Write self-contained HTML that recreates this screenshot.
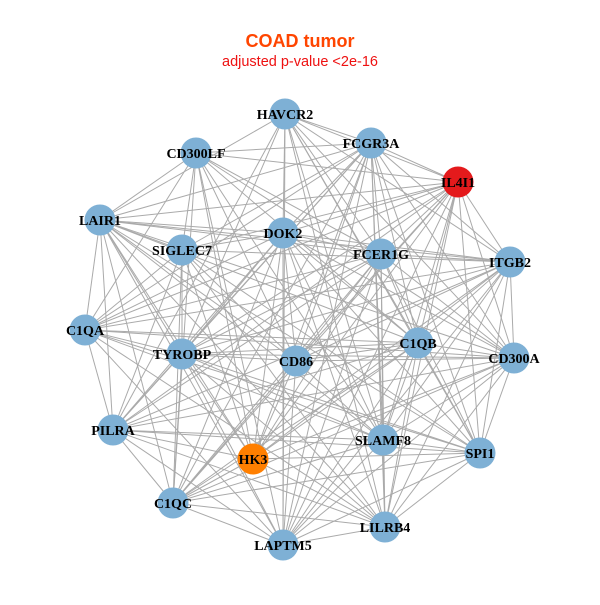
<!DOCTYPE html>
<html><head><meta charset="utf-8"><style>
body{margin:0;background:#fff;}
</style></head><body>
<svg id="s" width="600" height="600" xmlns="http://www.w3.org/2000/svg">
<rect width="600" height="600" fill="#fff"/>
<text x="300" y="47" text-anchor="middle" font-family="Liberation Sans, sans-serif" font-weight="bold" font-size="18" fill="#FF4500">COAD tumor</text>
<text x="300" y="66" text-anchor="middle" font-family="Liberation Sans, sans-serif" font-size="14.5" fill="#EE1111">adjusted p-value &lt;2e-16</text>
<g id="e" stroke="#aaaaaa" stroke-width="1"></g>
<g id="n"></g>
<g id="t" font-family="Liberation Serif, serif" font-weight="bold" font-size="14" text-anchor="middle" fill="#000"></g>
</svg>
<script>
var N=[["HAVCR2",285,114],["FCGR3A",371,143],["IL4I1",458,182,"#E41A1C"],["CD300LF",196,153],["LAIR1",100,220],["DOK2",283,233],["SIGLEC7",182,250],["FCER1G",381,254],["ITGB2",510,262],["C1QA",85,330],["C1QB",418,343],["TYROBP",182,354],["CD86",296,361],["CD300A",514,358],["PILRA",113,430],["HK3",253,459,"#FF7F00"],["SLAMF8",383,440],["SPI1",480,453],["C1QC",173,503],["LAPTM5",283,545],["LILRB4",385,527]];
var ns="http://www.w3.org/2000/svg",e=document.getElementById("e"),n=document.getElementById("n"),t=document.getElementById("t");
for(var i=0;i<N.length;i++)for(var j=i+1;j<N.length;j++){if((i*7+j*3)%9==0)continue;var l=document.createElementNS(ns,"line");l.setAttribute("x1",N[i][1]);l.setAttribute("y1",N[i][2]);l.setAttribute("x2",N[j][1]);l.setAttribute("y2",N[j][2]);e.appendChild(l);}
N.forEach(function(d){var c=document.createElementNS(ns,"circle");c.setAttribute("cx",d[1]);c.setAttribute("cy",d[2]);c.setAttribute("r",15.5);c.setAttribute("fill",d[3]||"#7EB0D5");n.appendChild(c);var x=document.createElementNS(ns,"text");x.setAttribute("x",d[1]);x.setAttribute("y",d[2]+5);x.textContent=d[0];t.appendChild(x);});
</script>
</body></html>
